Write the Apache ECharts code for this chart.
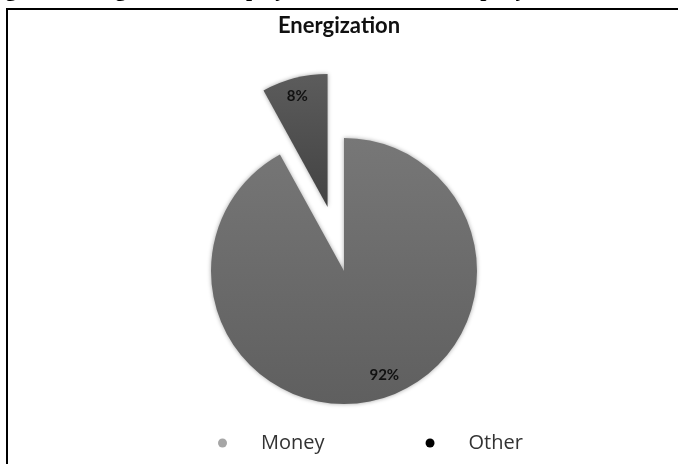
<!DOCTYPE html>
<html>
<head>
<meta charset="utf-8">
<script src="https://cdn.jsdelivr.net/npm/echarts@6/dist/echarts.min.js"></script>
<style>
  html, body { margin: 0; padding: 0; background: #fff; }
  #chart { width: 678px; height: 464px; }
</style>
</head>
<body>
<div id="chart"></div>
<script>
// Motivation sources behind employee energization
const categories = ['Money', 'Other'];
const shares = [92, 8];
const explodedCategory = 'Other';

const chart = echarts.init(document.getElementById('chart'), null, { renderer: 'canvas' });

const sliceFills = {
  Money: new echarts.graphic.LinearGradient(0, 0, 0, 1, [
    { offset: 0, color: '#777777' },
    { offset: 1, color: '#5f5f5f' }
  ]),
  Other: new echarts.graphic.LinearGradient(0, 0, 0, 1, [
    { offset: 0, color: '#5c5c5c' },
    { offset: 1, color: '#424242' }
  ])
};
const legendDots = { Money: '#a6a6a6', Other: '#000000' };
const labelShift = { Money: [23, 37], Other: [-13, -44] };

chart.setOption({
  animation: false,
  title: {
    text: 'Energization',
    left: 'center',
    top: 10,
    textStyle: { fontFamily: 'Lato', fontWeight: 'bold', fontSize: 22, color: '#111' }
  },
  graphic: [
    {
      type: 'text',
      left: -14,
      top: -21,
      style: {
        text: 'Figure 4: Integration of Employees in a Product company',
        font: 'bold 22px "Liberation Serif"',
        fill: '#000'
      }
    },
    { type: 'rect', shape: { x: 6, y: 8, width: 672, height: 2 }, style: { fill: '#000' } },
    { type: 'rect', shape: { x: 6, y: 8, width: 2, height: 456 }, style: { fill: '#000' } }
  ],
  legend: {
    bottom: 6,
    left: 213,
    icon: 'circle',
    itemWidth: 9,
    itemHeight: 9,
    itemGap: 101,
    selectedMode: false,
    textStyle: {
      fontFamily: 'Open Sans',
      fontSize: 20,
      color: '#333',
      padding: [0, 0, 0, 29]
    },
    data: categories.map(name => ({ name, itemStyle: { color: legendDots[name] } }))
  },
  series: [{
    type: 'pie',
    center: [344, 271],
    radius: 133,
    startAngle: 90,
    clockwise: true,
    selectedMode: 'single',
    selectedOffset: 66,
    avoidLabelOverlap: false,
    emphasis: { disabled: true },
    itemStyle: {
      shadowBlur: 4,
      shadowColor: 'rgba(0,0,0,0.35)'
    },
    label: {
      show: true,
      position: 'inside',
      formatter: '{c}%',
      fontFamily: 'Lato',
      fontWeight: 'bold',
      fontSize: 15,
      color: '#111'
    },
    labelLine: { show: false },
    data: categories.map((name, i) => ({
      name,
      value: shares[i],
      selected: name === explodedCategory,
      itemStyle: { color: sliceFills[name] },
      label: { offset: labelShift[name] },
      select: { label: { offset: labelShift[name] } }
    }))
  }]
});
</script>
</body>
</html>
